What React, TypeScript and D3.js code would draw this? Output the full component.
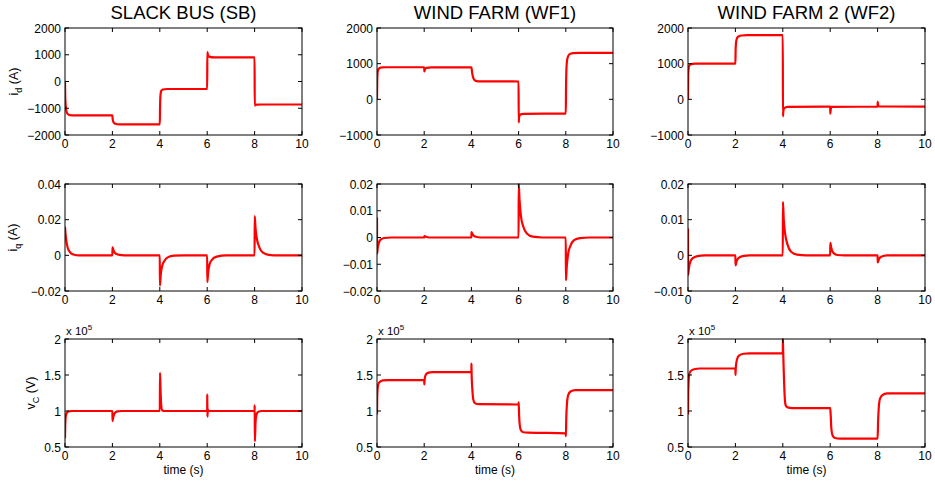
import React from 'react';
import * as d3 from 'd3';

// time axis
const xTicks = [0, 2, 4, 6, 8, 10];
const titles = ['SLACK BUS (SB)', 'WIND FARM (WF1)', 'WIND FARM 2 (WF2)'];

// row 1: i_d (A)
const sbId: [number, number][] = [[0,0],[0.01,-600],[0.03,-900],[0.06,-1100],[0.1,-1200],[0.2,-1255],[0.4,-1270],[2,-1270],[2.01,-1400],[2.05,-1530],[2.12,-1580],[2.3,-1600],[4,-1600],[4.01,-1000],[4.03,-500],[4.06,-350],[4.12,-300],[4.3,-280],[6,-280],[6.005,1100],[6.03,1000],[6.08,930],[6.3,900],[8,900],[8.005,-900],[8.04,-880],[8.1,-865],[8.3,-860],[10,-860]];
const wf1Id: [number, number][] = [[0,0],[0.01,500],[0.03,780],[0.08,860],[0.2,895],[0.4,900],[2,900],[2.005,780],[2.03,840],[2.1,880],[2.3,895],[4,900],[4.03,750],[4.08,600],[4.15,530],[4.3,505],[6,500],[6.005,-650],[6.02,-500],[6.06,-430],[6.2,-405],[8,-400],[8.01,300],[8.03,900],[8.07,1150],[8.15,1260],[8.3,1295],[8.6,1300],[10,1300]];
const wf2Id: [number, number][] = [[0,0],[0.01,700],[0.04,920],[0.1,980],[0.3,1000],[2,1000],[2.01,1400],[2.04,1650],[2.1,1750],[2.25,1790],[2.5,1800],[4,1800],[4.005,-480],[4.02,-350],[4.06,-250],[4.2,-210],[6,-205],[6.003,-400],[6.02,-300],[6.05,-210],[8,-205],[8.003,-70],[8.02,-150],[8.06,-200],[10,-205]];

// row 2: i_q (A)
const sbIq: [number, number][] = [[0,0.016],[0.03,0.011],[0.07,0.007],[0.12,0.004],[0.2,0.002],[0.35,0.0005],[0.6,0],[2,0],[2.005,0.0045],[2.04,0.003],[2.1,0.0015],[2.25,0.0004],[2.5,0],[4,0],[4.005,-0.017],[4.04,-0.011],[4.1,-0.006],[4.2,-0.003],[4.35,-0.001],[4.6,-0.0002],[5,0],[6,0],[6.005,-0.015],[6.04,-0.0095],[6.1,-0.005],[6.2,-0.0025],[6.4,-0.0007],[6.8,0],[8,0],[8.005,0.022],[8.04,0.015],[8.1,0.009],[8.2,0.0045],[8.35,0.0015],[8.6,0.0003],[9,0],[10,0]];
const wf1Iq: [number, number][] = [[0,0.0075],[0.005,-0.006],[0.03,-0.004],[0.08,-0.002],[0.15,-0.0008],[0.3,-0.0002],[0.6,0],[2,0],[2.005,0.0005],[2.1,0.0002],[2.3,0],[4,0],[4.005,0.002],[4.05,0.0012],[4.15,0.0004],[4.4,0],[6,0],[6.005,0.02],[6.04,0.014],[6.1,0.008],[6.2,0.004],[6.35,0.0015],[6.6,0.0003],[7,0],[8,0],[8.005,-0.016],[8.04,-0.011],[8.1,-0.006],[8.2,-0.003],[8.35,-0.001],[8.6,-0.0002],[9,0],[10,0]];
const wf2Iq: [number, number][] = [[0,0.0075],[0.005,-0.0055],[0.04,-0.0035],[0.1,-0.0018],[0.2,-0.0008],[0.4,-0.0002],[0.7,0],[2,0],[2.005,-0.0028],[2.05,-0.0017],[2.12,-0.0008],[2.3,-0.0002],[2.6,0],[4,0],[4.005,0.015],[4.04,0.01],[4.1,0.006],[4.2,0.003],[4.35,0.001],[4.6,0.0002],[5,0],[6,0],[6.005,0.0035],[6.05,0.002],[6.12,0.0008],[6.3,0.0001],[6.6,0],[8,0],[8.005,-0.002],[8.05,-0.0012],[8.15,-0.0004],[8.4,0],[10,0]];

// row 3: v_C (x 10^5 V)
const sbVc: [number, number][] = [[0,0.62],[0.01,0.8],[0.03,0.92],[0.07,0.97],[0.15,0.995],[0.3,1.0],[2,1.0],[2.005,0.86],[2.04,0.92],[2.1,0.97],[2.2,0.995],[2.4,1.0],[4,1.0],[4.01,1.53],[4.03,1.3],[4.06,1.08],[4.1,1.01],[4.2,1.0],[6,1.0],[6.003,1.23],[6.01,0.92],[6.025,1.02],[6.06,1.0],[8,1.0],[8.003,1.08],[8.012,0.58],[8.04,0.85],[8.08,0.95],[8.15,0.99],[8.3,1.0],[10,1.0]];
const wf1Vc: [number, number][] = [[0,0.95],[0.01,1.2],[0.04,1.35],[0.1,1.4],[0.25,1.425],[0.5,1.43],[2,1.43],[2.005,1.37],[2.02,1.44],[2.06,1.5],[2.15,1.53],[2.35,1.54],[4,1.54],[4.003,1.66],[4.01,1.5],[4.04,1.3],[4.08,1.16],[4.15,1.11],[4.3,1.095],[6,1.09],[6.003,1.12],[6.02,0.95],[6.05,0.8],[6.1,0.73],[6.2,0.705],[6.4,0.7],[8,0.69],[8.005,0.65],[8.02,0.9],[8.05,1.1],[8.1,1.22],[8.2,1.27],[8.4,1.29],[10,1.29]];
const wf2Vc: [number, number][] = [[0,0.95],[0.01,1.25],[0.04,1.48],[0.1,1.55],[0.25,1.58],[0.5,1.59],[2,1.59],[2.005,1.5],[2.02,1.62],[2.07,1.72],[2.15,1.77],[2.35,1.795],[2.6,1.8],[4,1.8],[4.003,2.0],[4.01,1.9],[4.04,1.55],[4.08,1.2],[4.12,1.08],[4.2,1.05],[4.4,1.04],[6,1.04],[6.02,0.95],[6.05,0.75],[6.1,0.66],[6.2,0.625],[6.4,0.615],[8,0.615],[8.02,0.85],[8.05,1.05],[8.1,1.17],[8.2,1.22],[8.4,1.245],[10,1.245]];

const idTicks1 = [-2000, -1000, 0, 1000, 2000];
const idTicks23 = [-1000, 0, 1000, 2000];
const iqTicks1 = [-0.02, 0, 0.02, 0.04];
const iqTicks2 = [-0.02, -0.01, 0, 0.01, 0.02];
const iqTicks3 = [-0.01, 0, 0.01, 0.02];
const vcTicks = [0.5, 1, 1.5, 2];

const W = 935;
const H = 484;
const FONT = '"Liberation Sans", Arial, Helvetica, sans-serif';
const colX: [number, number][] = [[65, 302], [377, 613], [688, 925]];
const rowY: [number, number][] = [[28, 135], [184, 291], [339, 447]];

const fmt = (v: number) => {
  const s = String(+v.toFixed(4));
  return s.replace('-', '\u2212');
};

type Panel = { row: number; col: number; data: [number, number][]; ticks: number[] };

const panels: Panel[] = [
  { row: 0, col: 0, data: sbId, ticks: idTicks1 },
  { row: 0, col: 1, data: wf1Id, ticks: idTicks23 },
  { row: 0, col: 2, data: wf2Id, ticks: idTicks23 },
  { row: 1, col: 0, data: sbIq, ticks: iqTicks1 },
  { row: 1, col: 1, data: wf1Iq, ticks: iqTicks2 },
  { row: 1, col: 2, data: wf2Iq, ticks: iqTicks3 },
  { row: 2, col: 0, data: sbVc, ticks: vcTicks },
  { row: 2, col: 1, data: wf1Vc, ticks: vcTicks },
  { row: 2, col: 2, data: wf2Vc, ticks: vcTicks },
];

const TL = 4;

function PanelView({ p }: { p: Panel }) {
  const [x0, x1] = colX[p.col];
  const [y0, y1] = rowY[p.row];
  const x = d3.scaleLinear().domain([0, 10]).range([x0, x1]);
  const y = d3.scaleLinear().domain([p.ticks[0], p.ticks[p.ticks.length - 1]]).range([y1, y0]);
  const line = d3.line<[number, number]>().x(d => x(d[0])).y(d => y(d[1])).curve(d3.curveMonotoneX);
  return (
    <g>
      <defs>
        <clipPath id={`c${p.row}${p.col}`}>
          <rect x={x0} y={y0 - 1} width={x1 - x0} height={y1 - y0 + 2} />
        </clipPath>
      </defs>
      <path d={line(p.data) || ''} fill="none" stroke="#ff0000" strokeWidth={2.2} clipPath={`url(#c${p.row}${p.col})`} />
      <rect x={x0} y={y0} width={x1 - x0} height={y1 - y0} fill="none" stroke="#000" strokeWidth={1} />
      {xTicks.map(t => (
        <g key={'x' + t}>
          <line x1={x(t)} x2={x(t)} y1={y1} y2={y1 - TL} stroke="#000" />
          <line x1={x(t)} x2={x(t)} y1={y0} y2={y0 + TL} stroke="#000" />
          <text x={x(t)} y={y1 + 13} textAnchor="middle" fontSize={12}>{t}</text>
        </g>
      ))}
      {p.ticks.map(t => (
        <g key={'y' + t}>
          <line x1={x0} x2={x0 + TL} y1={y(t)} y2={y(t)} stroke="#000" />
          <line x1={x1} x2={x1 - TL} y1={y(t)} y2={y(t)} stroke="#000" />
          <text x={x0 - 4} y={y(t) + 4.5} textAnchor="end" fontSize={12}>{fmt(t)}</text>
        </g>
      ))}
      {p.row === 2 && (
        <>
          <text x={x0 + 1} y={335} fontSize={11.5}>
            x 10<tspan dy={-5} fontSize={8}>5</tspan>
          </text>
          <text x={(x0 + x1) / 2} y={474} textAnchor="middle" fontSize={12}>time (s)</text>
        </>
      )}
      {p.row === 0 && (
        <text x={(x0 + x1) / 2} y={19} textAnchor="middle" fontSize={18.5}>{titles[p.col]}</text>
      )}
    </g>
  );
}

function YLabel({ x, y, main, sub, unit }: { x: number; y: number; main: string; sub: string; unit: string }) {
  return (
    <text transform={`translate(${x},${y}) rotate(-90)`} textAnchor="middle" fontSize={12.5}>
      {main}
      <tspan dy={4} fontSize={9}>{sub}</tspan>
      <tspan dy={-4}> {unit}</tspan>
    </text>
  );
}

export default function App() {
  return (
    <svg width={W} height={H} style={{ position: 'absolute', left: 0, top: 0, background: '#fff' }} fontFamily={FONT}>
      <rect width={W} height={H} fill="#fff" />
      {panels.map(p => <PanelView key={`${p.row}${p.col}`} p={p} />)}
      <YLabel x={18} y={(rowY[0][0] + rowY[0][1]) / 2} main="i" sub="d" unit="(A)" />
      <YLabel x={17} y={(rowY[1][0] + rowY[1][1]) / 2} main="i" sub="q" unit="(A)" />
      <YLabel x={35} y={(rowY[2][0] + rowY[2][1]) / 2} main="v" sub="C" unit="(V)" />
    </svg>
  );
}
